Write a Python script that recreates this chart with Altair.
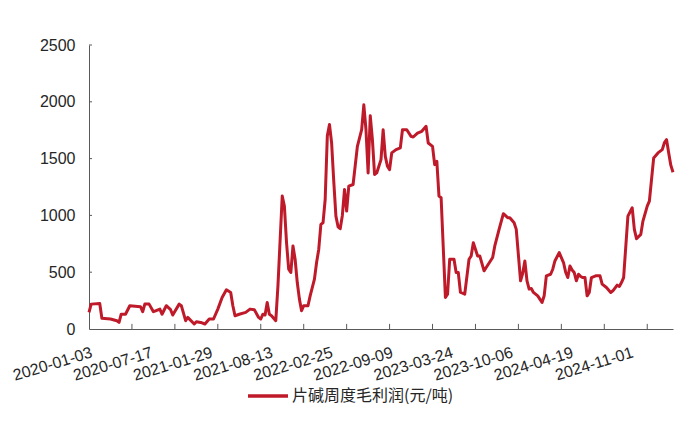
import altair as alt
import pandas as pd

# week index (0 = 2020-01-03, weekly) and gross profit values (元/吨)
weeks = [0, 1, 5, 6, 10, 13, 14, 15, 17, 19, 24, 25, 26, 28, 30, 31, 33, 34, 36, 38,
         39, 42, 43, 45, 46, 49, 50, 52, 54, 56, 58, 60, 62, 64, 66, 67, 68, 70, 73, 75,
         77, 79, 80, 81, 82, 83, 84, 85, 87, 88, 90, 91, 92, 93, 94, 95, 96, 97, 98, 99,
         100, 102, 103, 105, 106, 107, 108, 109, 110, 111, 112, 113, 114, 115, 116, 117, 118, 119, 120, 121,
         123, 125, 127, 128, 129, 130, 131, 132, 133, 134, 136, 137, 138, 139, 140, 141, 143, 145, 146, 148,
         150, 151, 153, 155, 157, 158, 160, 161, 162, 163, 164, 166, 167, 168, 170, 171, 172, 173, 174, 175,
         177, 178, 179, 181, 182, 184, 185, 188, 189, 191, 193, 195, 196, 198, 199, 201, 202, 203, 204, 205,
         206, 207, 209, 211, 212, 213, 215, 216, 217, 219, 220, 221, 222, 223, 224, 225, 226, 227, 228, 229,
         230, 231, 232, 233, 234, 236, 238, 239, 241, 243, 244, 246, 247, 248, 249, 251, 253, 254, 255, 257,
         258, 260, 261, 263, 265, 267, 268, 269, 270, 271, 272]
values = [146, 219, 225, 94, 88, 73, 58, 130, 130, 205, 196, 152, 219, 219, 152, 160, 175, 130, 205, 170,
          123, 219, 205, 73, 102, 44, 64, 58, 44, 88, 88, 175, 278, 345, 322, 205, 117, 130, 146, 175,
          170, 102, 88, 130, 123, 234, 130, 117, 73, 380, 1170, 1082, 760, 526, 497, 731, 614, 409, 263, 161,
          205, 205, 292, 439, 585, 700, 921, 935, 1140, 1700, 1800, 1637, 1300, 994, 900, 883, 1000, 1228, 1038, 1257,
          1272, 1608, 1754, 1974, 1754, 1374, 1877, 1667, 1360, 1374, 1491, 1754, 1520, 1433, 1403, 1550, 1579, 1594, 1754, 1754,
          1696, 1690, 1725, 1740, 1784, 1637, 1608, 1447, 1477, 1170, 1155, 278, 307, 614, 614, 497, 497, 322, 316, 307,
          614, 643, 760, 643, 643, 512, 541, 629, 731, 877, 1015, 980, 980, 936, 877, 424, 490, 599, 424, 351,
          357, 322, 292, 234, 292, 468, 482, 526, 599, 672, 629, 585, 500, 453, 555, 520, 497, 424, 482, 462,
          453, 453, 292, 322, 453, 468, 468, 395, 365, 322, 336, 386, 374, 409, 453, 994, 1067, 877, 795, 833,
          950, 1082, 1126, 1506, 1550, 1579, 1640, 1667, 1550, 1440, 1380]

label_dates = ["2020-01-03", "2020-07-17", "2021-01-29", "2021-08-13", "2022-02-25",
               "2022-09-09", "2023-03-24", "2023-10-06", "2024-04-19", "2024-11-01"]
label_weeks = [0, 28, 56, 84, 112, 140, 168, 196, 224, 252]
tick_weeks = [20, 40, 60, 80, 100, 120, 140, 160, 180, 200, 220, 240, 260]
y_ticks = [0, 500, 1000, 1500, 2000, 2500]
series_name = "片碱周度毛利润(元/吨)"

RED = "#BE1A2A"
AXIS = "#595959"
TXT = "#262626"

df = pd.DataFrame({"week": weeks, "value": values, "series": series_name})
xt = pd.DataFrame({"week": tick_weeks, "value": 0, "y1": 45})
yt = pd.DataFrame({"value": y_ticks[1:], "week": 0, "x1": 1.4})

x_scale = alt.Scale(domain=[0, 272], nice=False, zero=False)
y_scale = alt.Scale(domain=[0, 2500], nice=False)

label_arr = "[" + ",".join("'" + d + "'" for d in label_dates) + "]"

x_axis = alt.Axis(values=label_weeks, labelExpr=label_arr + "[round(datum.value/28)]",
                  labelAngle=-17, labelAlign="right", labelBaseline="top",
                  labelFlush=False, labelOverlap=False, labelPadding=15,
                  labelFont="Liberation Sans", labelFontSize=16, labelColor=TXT,
                  ticks=False, grid=False, title=None,
                  domainColor=AXIS, domainWidth=1)
y_axis = alt.Axis(values=y_ticks, format="d", labelFont="Liberation Sans", labelFontSize=16,
                  labelColor=TXT, labelPadding=14, ticks=False, grid=False,
                  title=None, domainColor=AXIS, domainWidth=1)

line = alt.Chart(df).mark_line(strokeWidth=3, strokeJoin="round").encode(
    x=alt.X("week:Q", scale=x_scale, axis=x_axis),
    y=alt.Y("value:Q", scale=y_scale, axis=y_axis),
    color=alt.Color("series:N", scale=alt.Scale(range=[RED]),
                    legend=alt.Legend(orient="none", legendX=157, legendY=329, title=None,
                                      symbolType="stroke", symbolStrokeWidth=3.5,
                                      symbolSize=1600, labelFont="Noto Sans CJK SC",
                                      labelFontSize=16, labelColor=TXT, labelLimit=0,
                                      labelOffset=2)),
)

xticks = alt.Chart(xt).mark_rule(color=AXIS, strokeWidth=1).encode(
    x=alt.X("week:Q", scale=x_scale, axis=x_axis),
    y=alt.Y("value:Q", scale=y_scale, axis=y_axis),
    y2="y1:Q",
)

yticks = alt.Chart(yt).mark_rule(color=AXIS, strokeWidth=1).encode(
    y=alt.Y("value:Q", scale=y_scale, axis=y_axis),
    x=alt.X("week:Q", scale=x_scale, axis=x_axis),
    x2="x1:Q",
)

chart = alt.layer(line, xticks, yticks).properties(
    width=584, height=284,
    autosize=alt.AutoSizeParams(type="none"),
    padding={"left": 81, "top": 37, "right": 19, "bottom": 84},
).configure_view(stroke=None)

chart.save("out.html", embed_options={"renderer": "svg", "actions": False})
